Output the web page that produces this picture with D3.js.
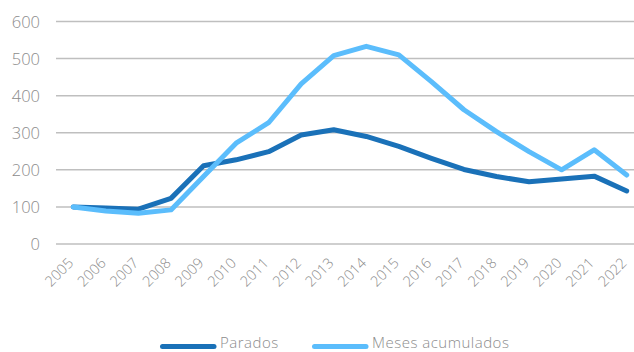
<!DOCTYPE html>
<html><head><meta charset="utf-8">
<script src="https://cdn.jsdelivr.net/npm/d3@7"></script>
<style>
html,body{margin:0;padding:0;background:#fff;}
svg{display:block;}
text{font-family:"Open Sans",sans-serif;font-weight:300;fill:#8c8c8c;}
</style></head>
<body>
<svg id="c" width="634" height="352"></svg>
<script>
const years = [2005,2006,2007,2008,2009,2010,2011,2012,2013,2014,2015,2016,2017,2018,2019,2020,2021,2022];
const parados = [100,97,94,123,211,227,249,294,308,290,263,231,201,182,168,175,183,143];
const meses = [100,89,83,92,182,272,327,432,508,533,510,438,362,303,249,200,254,186];
const yTicks = [0,100,200,300,400,500,600];
const seriesNames = ["Parados","Meses acumulados"];
const colors = ["#1a71b8","#5bbdfc"];

const svg = d3.select("#c");
const x = d3.scalePoint().domain(years).range([73.3, 626.7]);
const y = d3.scaleLinear().domain([0,600]).range([244, 21.5]);

// gridlines
svg.append("g").selectAll("line").data(yTicks).join("line")
  .attr("x1",56).attr("x2",634)
  .attr("y1",d=>y(d)).attr("y2",d=>y(d))
  .attr("stroke","#bfbfbf").attr("stroke-width",1.5);

// y labels
const yAxis = d3.axisLeft(y).tickValues(yTicks).tickSize(0).tickPadding(0);
const gy = svg.append("g").attr("transform","translate(40,0)").call(yAxis);
gy.select(".domain").remove();
gy.selectAll("text").style("font-size","16.5px").attr("fill","#8c8c8c").attr("dy","0.35em");

// x labels
const xAxis = d3.axisBottom(x).tickSize(0).tickPadding(0);
const gx = svg.append("g").call(xAxis);
gx.select(".domain").remove();
gx.selectAll(".tick").attr("transform", d=>`translate(${x(d)+1},264)`);
gx.selectAll("text")
  .style("font-size","14.5px").attr("fill","#8c8c8c")
  .attr("text-anchor","end").attr("dy","0").attr("y",0).attr("x",0)
  .attr("transform","rotate(-45)");

// lines
const line = d3.line().x((d,i)=>x(years[i])).y(d=>y(d));
[parados, meses].forEach((s,k)=>{
  svg.append("path").datum(s).attr("d",line)
    .attr("fill","none").attr("stroke",colors[k]).attr("stroke-width",5)
    .attr("stroke-linejoin","round").attr("stroke-linecap","round");
});

// legend
const leg = [{x:160, tx:220},{x:312, tx:372}];
seriesNames.forEach((n,k)=>{
  svg.append("line").attr("x1",leg[k].x+2.5).attr("x2",leg[k].x+54)
    .attr("y1",346.5).attr("y2",346.5)
    .attr("stroke",colors[k]).attr("stroke-width",5).attr("stroke-linecap","round");
  svg.append("text").attr("x",leg[k].tx).attr("y",347.5)
    .style("font-size","15px").style("letter-spacing","0.5px").attr("fill","#7f7f7f").text(n);
});
</script>
</body></html>
